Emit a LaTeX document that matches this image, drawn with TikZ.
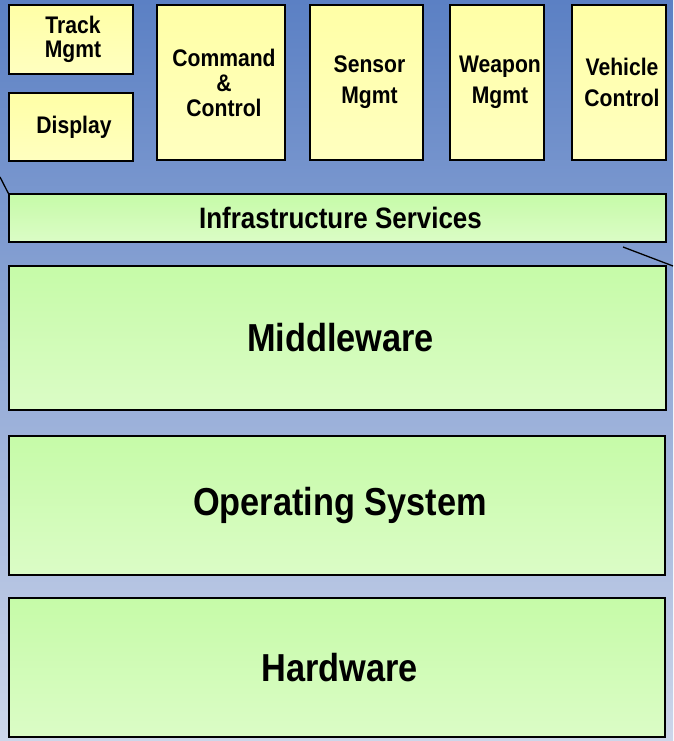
\documentclass[tikz,border=0pt]{standalone}
\usepackage{fontspec}
\setmainfont{Liberation Sans}[FakeStretch=0.88]
\definecolor{bgtop}{RGB}{91,128,196}
\definecolor{bgbot}{RGB}{205,214,234}
\definecolor{grtop}{RGB}{198,251,168}
\definecolor{grbot}{RGB}{219,252,198}
\definecolor{yltop}{RGB}{255,255,166}
\definecolor{ylbot}{RGB}{255,255,192}
\tikzset{
  box/.style={draw=black, line width=1.3pt, rectangle, inner sep=0pt, align=center, font=\bfseries},
  appbox/.style={box, top color=yltop, bottom color=ylbot},
  layerbox/.style={box, top color=grtop, bottom color=grbot},
  small/.style={font=\bfseries\fontsize{24}{#1}\selectfont},
  big/.style={font=\bfseries\fontsize{39}{46}\selectfont},
  mid/.style={font=\bfseries\fontsize{29.5}{34}\selectfont},
  callout/.style={draw=black, line width=1.3pt}
}
\begin{document}
\begin{tikzpicture}[x=1pt,y=-1pt]
\fill[top color=bgtop, bottom color=bgbot] (0,0) rectangle (673,741);
\useasboundingbox (0,0) rectangle (673,741);
% application boxes
\node[appbox, small=24, minimum width=124pt, minimum height=69pt] (track) at (71,39.5) {\hspace*{4pt}Track\\\hspace*{4pt}Mgmt};
\node[appbox, small=24, minimum width=124pt, minimum height=68pt] (display) at (71,127) {\hspace*{6pt}Display};
\node[appbox, small=25, minimum width=128pt, minimum height=155pt] (cmd) at (221,82.5) {\hspace*{6pt}Command\\\hspace*{6pt}\&\\\hspace*{6pt}Control};
\node[appbox, small=31, minimum width=113pt, minimum height=155pt] (sensor) at (366.5,82.5) {\hspace*{6pt}Sensor\\\hspace*{6pt}Mgmt};
\node[appbox, small=31, minimum width=94pt, minimum height=155pt] (weapon) at (497,82.5) {\hspace*{6pt}Weapon\\\hspace*{6pt}Mgmt};
\node[appbox, small=31, minimum width=94pt, minimum height=155pt] (vehicle) at (619,82.5) {\hspace*{6pt}Vehicle\\\hspace*{6pt}Control};
% layers
\node[layerbox, mid, minimum width=657pt, minimum height=48pt] (infra) at (337.5,218) {\hspace*{6pt}Infrastructure Services};
\node[layerbox, big, minimum width=657pt, minimum height=144pt] (mw) at (337.5,338) {\hspace*{6pt}Middleware};
\node[layerbox, big, minimum width=656pt, minimum height=139pt] (os) at (337,505.5) {\hspace*{6pt}Operating System};
\node[layerbox, big, minimum width=656pt, minimum height=139pt] (hw) at (337,667.5) {\hspace*{5pt}Hardware};
% callout lines
\coordinate (lc) at (0,177);
\coordinate (ra) at (623,247);
\coordinate (rb) at (673,266);
\draw[callout] (lc) -- (infra.north west);
\draw[callout] (ra) -- (rb);
\end{tikzpicture}
\end{document}
